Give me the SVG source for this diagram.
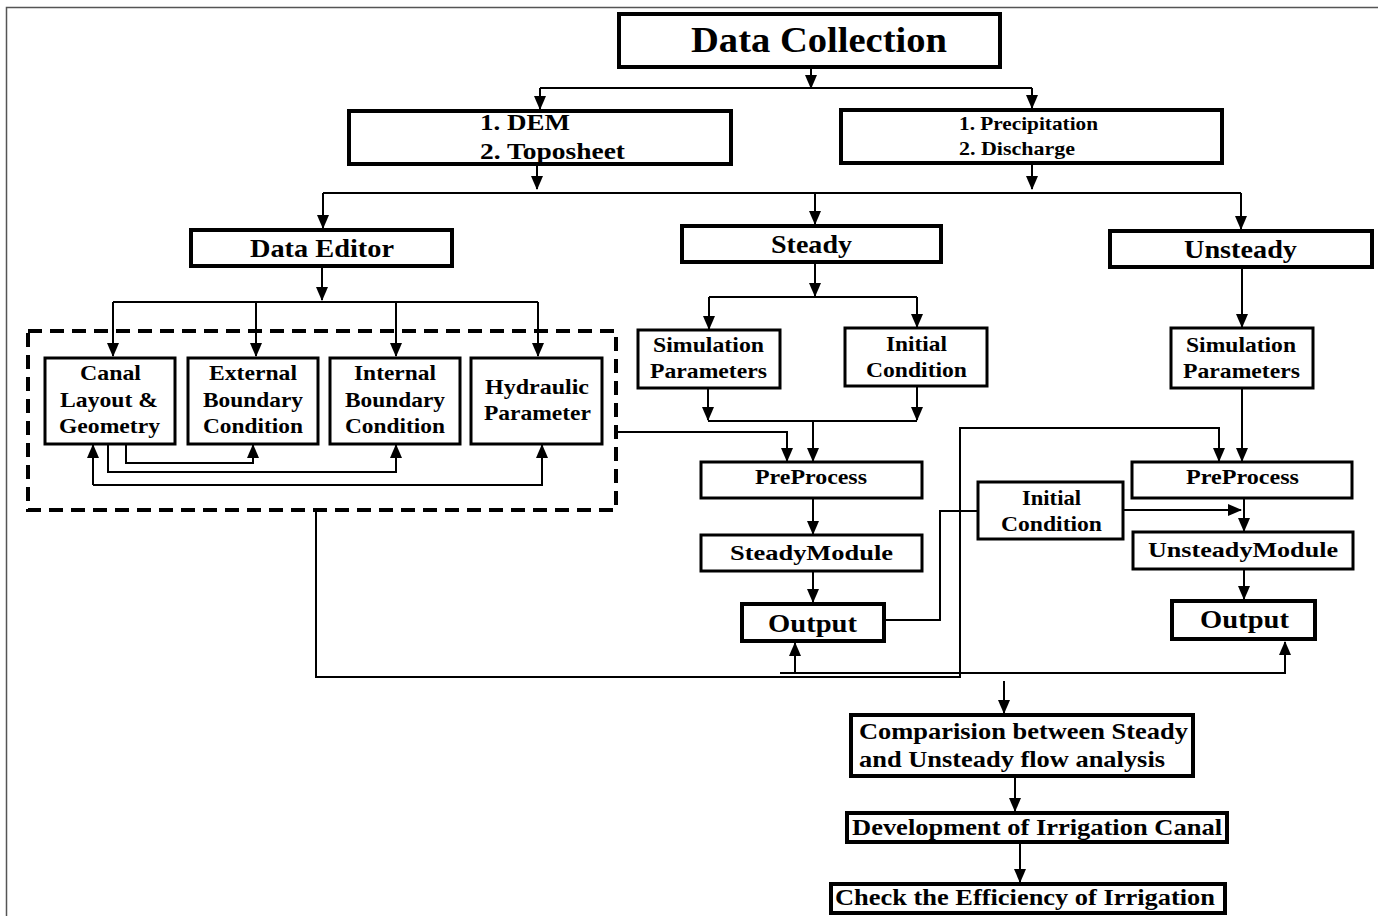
<svg xmlns="http://www.w3.org/2000/svg" width="1378" height="916" viewBox="0 0 1378 916">
<style>
text{font-family:"Liberation Serif","Times New Roman",serif;font-weight:bold;fill:#000}
.b4{fill:#fff;stroke:#000;stroke-width:4}
.b3{fill:#fff;stroke:#000;stroke-width:3}
.c{fill:none;stroke:#000;stroke-width:2}
.a{fill:none;stroke:#000;stroke-width:2;marker-end:url(#ah)}
</style>
<defs>
<marker id="ah" markerWidth="14" markerHeight="12" refX="13" refY="6" orient="auto" markerUnits="userSpaceOnUse">
<path d="M0,0 L14,6 L0,12 Z" fill="#000"/>
</marker>
</defs>
<rect width="1378" height="916" fill="#fff"/>
<path d="M6.5,916 V7.5 H1378" fill="none" stroke="#555" stroke-width="1.5"/>

<g id="connectors">
<path class="a" d="M811,67 V88"/>
<path class="c" d="M540,88 H1032"/>
<path class="a" d="M540,88 V109"/>
<path class="a" d="M1032,88 V108"/>
<path class="a" d="M537,164 V189"/>
<path class="a" d="M1032,163 V189"/>
<path class="c" d="M323,193 H1241"/>
<path class="a" d="M323,193 V228"/>
<path class="a" d="M815,193 V224"/>
<path class="a" d="M1241,193 V229"/>
<path class="a" d="M322,266 V300"/>
<path class="c" d="M113,302 H538"/>
<path class="a" d="M113,302 V356"/>
<path class="a" d="M256,302 V356"/>
<path class="a" d="M396,302 V356"/>
<path class="a" d="M538,302 V356"/>
<path class="a" d="M126,444 V463 H253 V445"/>
<path class="a" d="M108,444 V472 H396 V445"/>
<path class="a" d="M93,485 V445"/>
<path class="a" d="M93,485 H542 V445"/>
<path class="a" d="M815,262 V296"/>
<path class="c" d="M709,297 H917"/>
<path class="a" d="M709,297 V329"/>
<path class="a" d="M917,297 V327"/>
<path class="a" d="M708,388 V420"/>
<path class="a" d="M917,386 V420"/>
<path class="c" d="M708,421 H917"/>
<path class="a" d="M813,421 V461"/>
<path class="a" d="M616,432 H787 V461"/>
<path class="a" d="M813,498 V534"/>
<path class="a" d="M813,571 V602"/>
<path class="a" d="M1242,268 V327"/>
<path class="a" d="M1242,388 V461"/>
<path class="a" d="M316,511 V677 H960 V428 H1219 V461"/>
<path class="c" d="M884,620 H940 V511 H978"/>
<path class="a" d="M1123,510 H1241"/>
<path class="a" d="M1244,498 V531"/>
<path class="a" d="M1244,569 V599"/>
<path class="a" d="M780,673 H1285 V642"/>
<path class="a" d="M795,673 V643"/>
<path class="a" d="M1004,681 V713"/>
<path class="a" d="M1015,777 V811"/>
<path class="a" d="M1020,843 V882"/>
</g>

<g id="data-collection">
<rect class="b4" x="619" y="14" width="381" height="53"/>
<text x="691" y="52" font-size="36" textLength="256" lengthAdjust="spacingAndGlyphs">Data Collection</text>
</g>
<g id="dem-toposheet">
<rect class="b4" x="349" y="111" width="382" height="53"/>
<text x="480" y="130" font-size="23" textLength="90" lengthAdjust="spacingAndGlyphs">1. DEM</text>
<text x="480" y="159" font-size="23" textLength="145" lengthAdjust="spacingAndGlyphs">2. Toposheet</text>
</g>
<g id="precip-discharge">
<rect class="b4" x="841" y="110" width="381" height="53"/>
<text x="959" y="130" font-size="19" textLength="139" lengthAdjust="spacingAndGlyphs">1. Precipitation</text>
<text x="959" y="155" font-size="19" textLength="116" lengthAdjust="spacingAndGlyphs">2. Discharge</text>
</g>
<g id="data-editor">
<rect class="b4" x="191" y="230" width="261" height="36"/>
<text x="250" y="257" font-size="26" textLength="144" lengthAdjust="spacingAndGlyphs">Data Editor</text>
</g>
<g id="steady">
<rect class="b4" x="682" y="226" width="259" height="36"/>
<text x="771" y="253" font-size="26" textLength="81" lengthAdjust="spacingAndGlyphs">Steady</text>
</g>
<g id="unsteady">
<rect class="b4" x="1110" y="231" width="262" height="36"/>
<text x="1184" y="258" font-size="26" textLength="113" lengthAdjust="spacingAndGlyphs">Unsteady</text>
</g>
<g id="dashed-group">
<rect x="28" y="331" width="588" height="179" fill="none" stroke="#000" stroke-width="4" stroke-dasharray="14 8"/>
</g>
<g id="canal-layout">
<rect class="b3" x="45" y="358" width="130" height="86"/>
<text x="80" y="380" font-size="21" textLength="61" lengthAdjust="spacingAndGlyphs">Canal</text>
<text x="60" y="407" font-size="21" textLength="98" lengthAdjust="spacingAndGlyphs">Layout &amp;</text>
<text x="59" y="433" font-size="21" textLength="101" lengthAdjust="spacingAndGlyphs">Geometry</text>
</g>
<g id="external-bc">
<rect class="b3" x="188" y="358" width="130" height="86"/>
<text x="209" y="380" font-size="21" textLength="88" lengthAdjust="spacingAndGlyphs">External</text>
<text x="203" y="407" font-size="21" textLength="100" lengthAdjust="spacingAndGlyphs">Boundary</text>
<text x="203" y="433" font-size="21" textLength="100" lengthAdjust="spacingAndGlyphs">Condition</text>
</g>
<g id="internal-bc">
<rect class="b3" x="330" y="358" width="130" height="86"/>
<text x="354" y="380" font-size="21" textLength="82" lengthAdjust="spacingAndGlyphs">Internal</text>
<text x="345" y="407" font-size="21" textLength="100" lengthAdjust="spacingAndGlyphs">Boundary</text>
<text x="345" y="433" font-size="21" textLength="100" lengthAdjust="spacingAndGlyphs">Condition</text>
</g>
<g id="hydraulic-parameter">
<rect class="b3" x="471" y="358" width="131" height="86"/>
<text x="485" y="394" font-size="21" textLength="104" lengthAdjust="spacingAndGlyphs">Hydraulic</text>
<text x="484" y="420" font-size="21" textLength="107" lengthAdjust="spacingAndGlyphs">Parameter</text>
</g>
<g id="steady-sim-params">
<rect class="b3" x="638" y="330" width="142" height="58"/>
<text x="653" y="352" font-size="21" textLength="111" lengthAdjust="spacingAndGlyphs">Simulation</text>
<text x="650" y="378" font-size="21" textLength="117" lengthAdjust="spacingAndGlyphs">Parameters</text>
</g>
<g id="steady-initial-condition">
<rect class="b3" x="845" y="328" width="142" height="58"/>
<text x="886" y="351" font-size="21" textLength="61" lengthAdjust="spacingAndGlyphs">Initial</text>
<text x="866" y="377" font-size="21" textLength="101" lengthAdjust="spacingAndGlyphs">Condition</text>
</g>
<g id="unsteady-sim-params">
<rect class="b3" x="1171" y="328" width="142" height="60"/>
<text x="1186" y="352" font-size="21" textLength="110" lengthAdjust="spacingAndGlyphs">Simulation</text>
<text x="1183" y="378" font-size="21" textLength="117" lengthAdjust="spacingAndGlyphs">Parameters</text>
</g>
<g id="steady-preprocess">
<rect class="b3" x="701" y="462" width="221" height="36"/>
<text x="755" y="484" font-size="21" textLength="112" lengthAdjust="spacingAndGlyphs">PreProcess</text>
</g>
<g id="unsteady-preprocess">
<rect class="b3" x="1132" y="462" width="220" height="36"/>
<text x="1186" y="484" font-size="21" textLength="113" lengthAdjust="spacingAndGlyphs">PreProcess</text>
</g>
<g id="unsteady-initial-condition">
<rect class="b3" x="978" y="482" width="145" height="57"/>
<text x="1022" y="505" font-size="21" textLength="59" lengthAdjust="spacingAndGlyphs">Initial</text>
<text x="1001" y="531" font-size="21" textLength="101" lengthAdjust="spacingAndGlyphs">Condition</text>
</g>
<g id="steady-module">
<rect class="b3" x="701" y="535" width="221" height="36"/>
<text x="730" y="560" font-size="22" textLength="163" lengthAdjust="spacingAndGlyphs">SteadyModule</text>
</g>
<g id="unsteady-module">
<rect class="b3" x="1133" y="532" width="220" height="37"/>
<text x="1148" y="557" font-size="22" textLength="190" lengthAdjust="spacingAndGlyphs">UnsteadyModule</text>
</g>
<g id="steady-output">
<rect class="b4" x="742" y="604" width="142" height="37"/>
<text x="768" y="632" font-size="25" textLength="89" lengthAdjust="spacingAndGlyphs">Output</text>
</g>
<g id="unsteady-output">
<rect class="b4" x="1172" y="601" width="143" height="38"/>
<text x="1200" y="628" font-size="25" textLength="89" lengthAdjust="spacingAndGlyphs">Output</text>
</g>
<g id="comparision">
<rect class="b4" x="851" y="715" width="342" height="61"/>
<text x="859" y="739" font-size="23" textLength="329" lengthAdjust="spacingAndGlyphs">Comparision between Steady</text>
<text x="859" y="767" font-size="23" textLength="306" lengthAdjust="spacingAndGlyphs">and Unsteady flow analysis</text>
</g>
<g id="development">
<rect class="b4" x="847" y="813" width="380" height="29"/>
<text x="852" y="835" font-size="24" textLength="370" lengthAdjust="spacingAndGlyphs">Development of Irrigation Canal</text>
</g>
<g id="check-efficiency">
<rect class="b4" x="831" y="884" width="394" height="29"/>
<text x="835" y="905" font-size="24" textLength="380" lengthAdjust="spacingAndGlyphs">Check the Efficiency of Irrigation</text>
</g>
</svg>
